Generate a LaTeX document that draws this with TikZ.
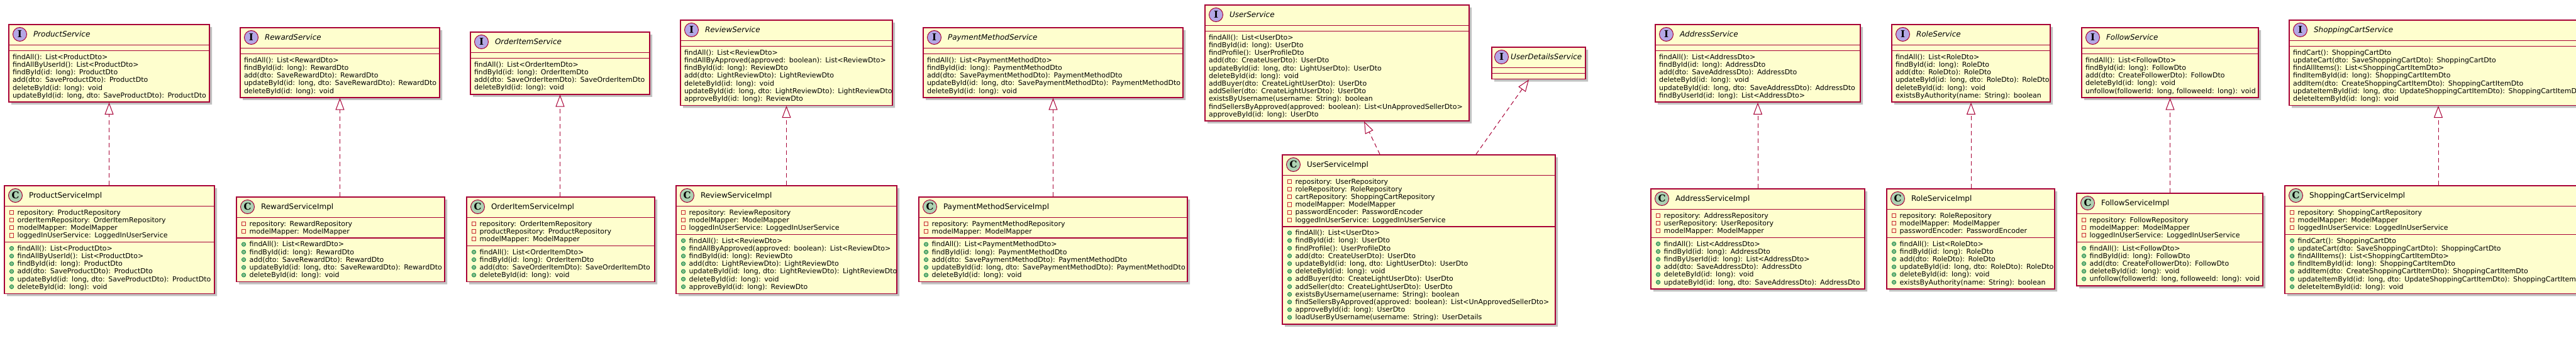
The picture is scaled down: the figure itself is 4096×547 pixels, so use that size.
\documentclass[tikz,border=0pt]{standalone}
\usepackage{fontspec}
\setmainfont{DejaVu Sans}
\newfontfamily\iconfont{DejaVu Serif}
\usepackage{tikz}
\usetikzlibrary{arrows.meta,shapes.multipart,shadows}
\definecolor{umlred}{HTML}{A80036}
\definecolor{umlfill}{HTML}{FEFECE}
\definecolor{ifacebg}{HTML}{B4A7E5}
\definecolor{classbg}{HTML}{ADD1B2}
\definecolor{privred}{HTML}{C82930}
\definecolor{pubfill}{HTML}{84BE84}
\definecolor{pubdraw}{HTML}{038048}
\setlength{\parindent}{0pt}
\newcommand{\mstrut}{\rule[-2.7pt]{0pt}{12.2pt}}
\newcommand{\tstrut}{\rule[-8.1pt]{0pt}{23.5pt}}
\newcommand{\estrut}{\rule{0pt}{0.7pt}}
\newcommand{\ifaceicon}{\tikz[baseline=0pt]{\draw[umlred,fill=ifacebg,line width=1pt] (11pt,4.4pt) circle (11pt);
  \pgftext[at=\pgfpoint{11pt}{4.4pt}]{\iconfont\fontsize{15}{15}\selectfont\bfseries I}}}
\newcommand{\classicon}{\tikz[baseline=0pt]{\draw[umlred,fill=classbg,line width=1pt] (11pt,4.4pt) circle (11pt);
  \pgftext[at=\pgfpoint{11pt}{4.4pt}]{\iconfont\fontsize{15}{15}\selectfont\bfseries C}}}
\newcommand{\ititle}[1]{\centering\mbox{\tstrut\ifaceicon\hspace{10pt}{\fontsize{12}{12}\selectfont\itshape #1}}}
\newcommand{\ctitle}[1]{\centering\mbox{\tstrut\classicon\hspace{10pt}{\fontsize{12}{12}\selectfont #1}}}
\newcommand{\iop}[1]{\mbox{\mstrut #1}}
\newcommand{\fld}[1]{\mbox{\mstrut\hspace*{2pt}\tikz[baseline=0pt]\draw[privred,line width=0.9pt] (0pt,0.6pt) rectangle (6.2pt,6.8pt);\hspace{5.5pt}#1}}
\newcommand{\mth}[1]{\mbox{\mstrut\hspace*{2pt}\tikz[baseline=0pt]\draw[pubdraw,fill=pubfill,line width=0.7pt] (3.2pt,3.8pt) circle (3.2pt);\hspace{5.5pt}#1}}
\tikzset{
  umlbox/.style={rectangle split, rectangle split parts=3, draw=umlred, fill=umlfill, line width=1.5pt,
    inner xsep=6pt, inner ysep=3.5pt, align=left, font=\fontsize{11}{12.2}\selectfont, anchor=north,
    drop shadow={shadow xshift=4pt,shadow yshift=-4pt,fill=black!30,opacity=.8}},
  realize/.style={draw=umlred, line width=1pt, dash pattern=on 7pt off 5pt, -{Triangle[open,length=19pt,width=14pt]}}
}

\begin{document}
\begin{tikzpicture}[x=1pt,y=-1pt]
                      \useasboundingbox (0,0) rectangle (4096,547);
                      \node[umlbox,text width=307pt] (ps) at (173.5,38) {\ititle{ProductService}
                        \nodepart{two}\estrut
                        \nodepart{three}\iop{findAll(): List<ProductDto>}\\
                        \iop{findAllByUserId(): List<ProductDto>}\\
                        \iop{findById(id: long): ProductDto}\\
                        \iop{add(dto: SaveProductDto): ProductDto}\\
                        \iop{deleteById(id: long): void}\\
                        \iop{updateById(id: long, dto: SaveProductDto): ProductDto}};
                      \node[umlbox,text width=322pt] (psi) at (174,294) {\ctitle{ProductServiceImpl}
                        \nodepart{two}\fld{repository: ProductRepository}\\
                        \fld{orderItemRepository: OrderItemRepository}\\
                        \fld{modelMapper: ModelMapper}\\
                        \fld{loggedInUserService: LoggedInUserService}
                        \nodepart{three}\mth{findAll(): List<ProductDto>}\\
                        \mth{findAllByUserId(): List<ProductDto>}\\
                        \mth{findById(id: long): ProductDto}\\
                        \mth{add(dto: SaveProductDto): ProductDto}\\
                        \mth{updateById(id: long, dto: SaveProductDto): ProductDto}\\
                        \mth{deleteById(id: long): void}};
                      \draw[realize] (psi.north -| ps.south) -- (ps.south);

                      \node[umlbox,text width=305pt] (rs) at (540.5,43) {\ititle{RewardService}
                        \nodepart{two}\estrut
                        \nodepart{three}\iop{findAll(): List<RewardDto>}\\
                        \iop{findById(id: long): RewardDto}\\
                        \iop{add(dto: SaveRewardDto): RewardDto}\\
                        \iop{updateById(id: long, dto: SaveRewardDto): RewardDto}\\
                        \iop{deleteById(id: long): void}};
                      \node[umlbox,text width=319pt] (rsi) at (541.5,312) {\ctitle{RewardServiceImpl}
                        \nodepart{two}\fld{repository: RewardRepository}\\
                        \fld{modelMapper: ModelMapper}
                        \nodepart{three}\mth{findAll(): List<RewardDto>}\\
                        \mth{findById(id: long): RewardDto}\\
                        \mth{add(dto: SaveRewardDto): RewardDto}\\
                        \mth{updateById(id: long, dto: SaveRewardDto): RewardDto}\\
                        \mth{deleteById(id: long): void}};
                      \draw[realize] (rsi.north -| rs.south) -- (rs.south);

                      \node[umlbox,text width=273pt] (ois) at (890.5,50) {\ititle{OrderItemService}
                        \nodepart{two}\estrut
                        \nodepart{three}\iop{findAll(): List<OrderItemDto>}\\
                        \iop{findById(id: long): OrderItemDto}\\
                        \iop{add(dto: SaveOrderItemDto): SaveOrderItemDto}\\
                        \iop{deleteById(id: long): void}};
                      \node[umlbox,text width=287pt] (oisi) at (891.5,312) {\ctitle{OrderItemServiceImpl}
                        \nodepart{two}\fld{repository: OrderItemRepository}\\
                        \fld{productRepository: ProductRepository}\\
                        \fld{modelMapper: ModelMapper}
                        \nodepart{three}\mth{findAll(): List<OrderItemDto>}\\
                        \mth{findById(id: long): OrderItemDto}\\
                        \mth{add(dto: SaveOrderItemDto): SaveOrderItemDto}\\
                        \mth{deleteById(id: long): void}};
                      \draw[realize] (oisi.north -| ois.south) -- (ois.south);

                      \node[umlbox,text width=325pt] (rvs) at (1250.5,31) {\ititle{ReviewService}
                        \nodepart{two}\estrut
                        \nodepart{three}\iop{findAll(): List<ReviewDto>}\\
                        \iop{findAllByApproved(approved: boolean): List<ReviewDto>}\\
                        \iop{findById(id: long): ReviewDto}\\
                        \iop{add(dto: LightReviewDto): LightReviewDto}\\
                        \iop{deleteById(id: long): void}\\
                        \iop{updateById(id: long, dto: LightReviewDto): LightReviewDto}\\
                        \iop{approveById(id: long): ReviewDto}};
                      \node[umlbox,text width=339pt] (rvsi) at (1250.5,294) {\ctitle{ReviewServiceImpl}
                        \nodepart{two}\fld{repository: ReviewRepository}\\
                        \fld{modelMapper: ModelMapper}\\
                        \fld{loggedInUserService: LoggedInUserService}
                        \nodepart{three}\mth{findAll(): List<ReviewDto>}\\
                        \mth{findAllByApproved(approved: boolean): List<ReviewDto>}\\
                        \mth{findById(id: long): ReviewDto}\\
                        \mth{add(dto: LightReviewDto): LightReviewDto}\\
                        \mth{updateById(id: long, dto: LightReviewDto): LightReviewDto}\\
                        \mth{deleteById(id: long): void}\\
                        \mth{approveById(id: long): ReviewDto}};
                      \draw[realize] (rvsi.north -| rvs.south) -- (rvs.south);

                      \node[umlbox,text width=401pt] (pms) at (1674.5,43) {\ititle{PaymentMethodService}
                        \nodepart{two}\estrut
                        \nodepart{three}\iop{findAll(): List<PaymentMethodDto>}\\
                        \iop{findById(id: long): PaymentMethodDto}\\
                        \iop{add(dto: SavePaymentMethodDto): PaymentMethodDto}\\
                        \iop{updateById(id: long, dto: SavePaymentMethodDto): PaymentMethodDto}\\
                        \iop{deleteById(id: long): void}};
                      \node[umlbox,text width=415pt] (pmsi) at (1674.5,312) {\ctitle{PaymentMethodServiceImpl}
                        \nodepart{two}\fld{repository: PaymentMethodRepository}\\
                        \fld{modelMapper: ModelMapper}
                        \nodepart{three}\mth{findAll(): List<PaymentMethodDto>}\\
                        \mth{findById(id: long): PaymentMethodDto}\\
                        \mth{add(dto: SavePaymentMethodDto): PaymentMethodDto}\\
                        \mth{updateById(id: long, dto: SavePaymentMethodDto): PaymentMethodDto}\\
                        \mth{deleteById(id: long): void}};
                      \draw[realize] (pmsi.north -| pms.south) -- (pms.south);

                      \node[umlbox,text width=408pt] (us) at (2126,7) {\ititle{UserService}
                        \nodepart{two}\estrut
                        \nodepart{three}\iop{findAll(): List<UserDto>}\\
                        \iop{findById(id: long): UserDto}\\
                        \iop{findProfile(): UserProfileDto}\\
                        \iop{add(dto: CreateUserDto): UserDto}\\
                        \iop{updateById(id: long, dto: LightUserDto): UserDto}\\
                        \iop{deleteById(id: long): void}\\
                        \iop{addBuyer(dto: CreateLightUserDto): UserDto}\\
                        \iop{addSeller(dto: CreateLightUserDto): UserDto}\\
                        \iop{existsByUsername(username: String): boolean}\\
                        \iop{findSellersByApproved(approved: boolean): List<UnApprovedSellerDto>}\\
                        \iop{approveById(id: long): UserDto}};
                      \node[umlbox,text width=137pt] (uds) at (2446.5,74) {\mbox{\tstrut\hspace*{-2pt}\ifaceicon\hspace{3pt}{\fontsize{12}{12}\selectfont\itshape UserDetailsService}}
                        \nodepart{two}\estrut
                        \nodepart{three}\estrut};
                      \node[umlbox,text width=422pt] (usi) at (2256,245) {\ctitle{UserServiceImpl}
                        \nodepart{two}\fld{repository: UserRepository}\\
                        \fld{roleRepository: RoleRepository}\\
                        \fld{cartRepository: ShoppingCartRepository}\\
                        \fld{modelMapper: ModelMapper}\\
                        \fld{passwordEncoder: PasswordEncoder}\\
                        \fld{loggedInUserService: LoggedInUserService}
                        \nodepart{three}\mth{findAll(): List<UserDto>}\\
                        \mth{findById(id: long): UserDto}\\
                        \mth{findProfile(): UserProfileDto}\\
                        \mth{add(dto: CreateUserDto): UserDto}\\
                        \mth{updateById(id: long, dto: LightUserDto): UserDto}\\
                        \mth{deleteById(id: long): void}\\
                        \mth{addBuyer(dto: CreateLightUserDto): UserDto}\\
                        \mth{addSeller(dto: CreateLightUserDto): UserDto}\\
                        \mth{existsByUsername(username: String): boolean}\\
                        \mth{findSellersByApproved(approved: boolean): List<UnApprovedSellerDto>}\\
                        \mth{approveById(id: long): UserDto}\\
                        \mth{loadUserByUsername(username: String): UserDetails}};
                      \draw[realize] ([xshift=-62pt]usi.north) -- ([xshift=43pt]us.south);
                      \draw[realize] ([xshift=91pt]usi.north) -- ([xshift=-15.5pt]uds.south);

                      \node[umlbox,text width=314pt] (as) at (2795,38) {\ititle{AddressService}
                        \nodepart{two}\estrut
                        \nodepart{three}\iop{findAll(): List<AddressDto>}\\
                        \iop{findById(id: long): AddressDto}\\
                        \iop{add(dto: SaveAddressDto): AddressDto}\\
                        \iop{deleteById(id: long): void}\\
                        \iop{updateById(id: long, dto: SaveAddressDto): AddressDto}\\
                        \iop{findByUserId(id: long): List<AddressDto>}};
                      \node[umlbox,text width=328pt] (asi) at (2795,299) {\ctitle{AddressServiceImpl}
                        \nodepart{two}\fld{repository: AddressRepository}\\
                        \fld{userRepository: UserRepository}\\
                        \fld{modelMapper: ModelMapper}
                        \nodepart{three}\mth{findAll(): List<AddressDto>}\\
                        \mth{findById(id: long): AddressDto}\\
                        \mth{findByUserId(id: long): List<AddressDto>}\\
                        \mth{add(dto: SaveAddressDto): AddressDto}\\
                        \mth{deleteById(id: long): void}\\
                        \mth{updateById(id: long, dto: SaveAddressDto): AddressDto}};
                      \draw[realize] (asi.north -| as.south) -- (as.south);

                      \node[umlbox,text width=240pt] (rls) at (3134,38) {\ititle{RoleService}
                        \nodepart{two}\estrut
                        \nodepart{three}\iop{findAll(): List<RoleDto>}\\
                        \iop{findById(id: long): RoleDto}\\
                        \iop{add(dto: RoleDto): RoleDto}\\
                        \iop{updateById(id: long, dto: RoleDto): RoleDto}\\
                        \iop{deleteById(id: long): void}\\
                        \iop{existsByAuthority(name: String): boolean}};
                      \node[umlbox,text width=255pt] (rlsi) at (3133.5,299) {\ctitle{RoleServiceImpl}
                        \nodepart{two}\fld{repository: RoleRepository}\\
                        \fld{modelMapper: ModelMapper}\\
                        \fld{passwordEncoder: PasswordEncoder}
                        \nodepart{three}\mth{findAll(): List<RoleDto>}\\
                        \mth{findById(id: long): RoleDto}\\
                        \mth{add(dto: RoleDto): RoleDto}\\
                        \mth{updateById(id: long, dto: RoleDto): RoleDto}\\
                        \mth{deleteById(id: long): void}\\
                        \mth{existsByAuthority(name: String): boolean}};
                      \draw[realize] (rlsi.north -| rls.south) -- (rls.south);

                      \node[umlbox,text width=269pt] (fs) at (3450.5,43) {\ititle{FollowService}
                        \nodepart{two}\estrut
                        \nodepart{three}\iop{findAll(): List<FollowDto>}\\
                        \iop{findById(id: long): FollowDto}\\
                        \iop{add(dto: CreateFollowerDto): FollowDto}\\
                        \iop{deleteById(id: long): void}\\
                        \iop{unfollow(followerId: long, followeeId: long): void}};
                      \node[umlbox,text width=284pt] (fsi) at (3450,306) {\ctitle{FollowServiceImpl}
                        \nodepart{two}\fld{repository: FollowRepository}\\
                        \fld{modelMapper: ModelMapper}\\
                        \fld{loggedInUserService: LoggedInUserService}
                        \nodepart{three}\mth{findAll(): List<FollowDto>}\\
                        \mth{findById(id: long): FollowDto}\\
                        \mth{add(dto: CreateFollowerDto): FollowDto}\\
                        \mth{deleteById(id: long): void}\\
                        \mth{unfollow(followerId: long, followeeId: long): void}};
                      \draw[realize] (fsi.north -| fs.south) -- (fs.south);

                      \node[umlbox,text width=462pt] (scs) at (3877,31) {\ititle{ShoppingCartService}
                        \nodepart{two}\estrut
                        \nodepart{three}\iop{findCart(): ShoppingCartDto}\\
                        \iop{updateCart(dto: SaveShoppingCartDto): ShoppingCartDto}\\
                        \iop{findAllItems(): List<ShoppingCartItemDto>}\\
                        \iop{findItemById(id: long): ShoppingCartItemDto}\\
                        \iop{addItem(dto: CreateShoppingCartItemDto): ShoppingCartItemDto}\\
                        \iop{updateItemById(id: long, dto: UpdateShoppingCartItemDto): ShoppingCartItemDto}\\
                        \iop{deleteItemById(id: long): void}};
                      \node[umlbox,text width=476pt] (scsi) at (3877,294) {\ctitle{ShoppingCartServiceImpl}
                        \nodepart{two}\fld{repository: ShoppingCartRepository}\\
                        \fld{modelMapper: ModelMapper}\\
                        \fld{loggedInUserService: LoggedInUserService}
                        \nodepart{three}\mth{findCart(): ShoppingCartDto}\\
                        \mth{updateCart(dto: SaveShoppingCartDto): ShoppingCartDto}\\
                        \mth{findAllItems(): List<ShoppingCartItemDto>}\\
                        \mth{findItemById(id: long): ShoppingCartItemDto}\\
                        \mth{addItem(dto: CreateShoppingCartItemDto): ShoppingCartItemDto}\\
                        \mth{updateItemById(id: long, dto: UpdateShoppingCartItemDto): ShoppingCartItemDto}\\
                        \mth{deleteItemById(id: long): void}};
                      \draw[realize] (scsi.north -| scs.south) -- (scs.south);
                  \end{tikzpicture}
\end{document}
